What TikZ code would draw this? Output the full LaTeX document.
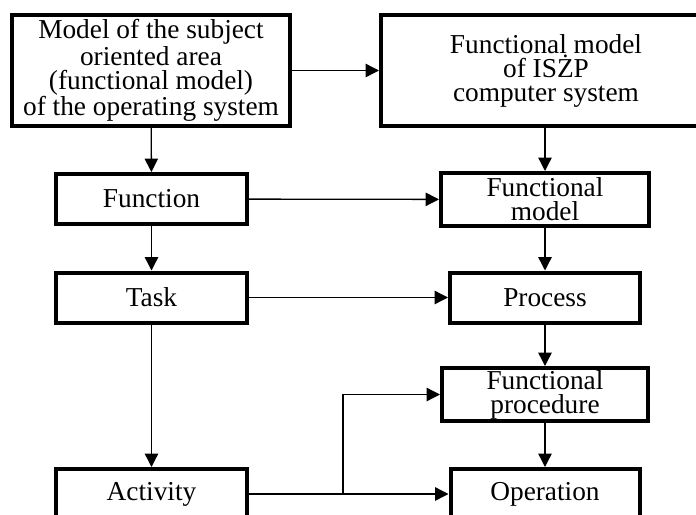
\documentclass[tikz,border=0pt]{standalone}
\usepackage{fontspec}
\setmainfont{Liberation Serif}
\usetikzlibrary{arrows.meta}

\begin{document}
\begin{tikzpicture}[x=0.75pt,y=-0.75pt,
        block/.style={draw,line width=3pt,align=center,inner sep=0pt,
            font=\fontsize{20.5}{18}\selectfont},
        link/.style={line width=1pt,-{Triangle[length=10pt,width=10pt]}}]
    \useasboundingbox (0,0) rectangle (696,514);
    \clip (0,0) rectangle (696,514);
    % left column
    \node[block,minimum width=208.5pt,minimum height=83.25pt] (model) at (151,70.5)
        {Model of the subject\\oriented area\\(functional model)\\of the operating system};
    \node[block,minimum width=143.25pt,minimum height=37.5pt] (function) at (151.5,199) {Function};
    \node[block,minimum width=143.25pt,minimum height=37.5pt] (task) at (151.5,297.5) {Task};
    \node[block,minimum width=143.25pt,minimum height=37.5pt] (activity) at (151.5,494) {Activity};
    % right column
    \node[block,minimum width=247.5pt,minimum height=83.25pt] (isf) at (546,70.5)
        {Functional model\\of ISŻP\\computer system};
    \node[block,minimum width=156pt,minimum height=39.75pt] (funmodel) at (545,199.5) {Functional\\model};
    \node[block,minimum width=142.5pt,minimum height=37.5pt] (process) at (545,297.5) {Process};
    \node[block,minimum width=154.5pt,minimum height=39.75pt] (funproc) at (545,394.5) {Functional\\procedure};
    \node[block,minimum width=141.75pt,minimum height=37.5pt] (operation) at (545,494) {Operation};
    % connectors
    \draw[link] (model) -- (isf);
    \draw[link] (model) -- (function);
    \draw[link] (function) -- (task);
    \draw[link] (task) -- (activity);
    \draw[link] (isf.south -| funmodel) -- (funmodel);
    \draw[link] (funmodel) -- (process);
    \draw[link] (process) -- (funproc);
    \draw[link] (funproc) -- (operation);
    \draw[link] (function) -- (funmodel);
    \draw[link] (task) -- (process);
    \draw[link] (activity) -- (operation);
    \coordinate (split) at (343,494);
    \draw[link] (split) |- (funproc.west);
\end{tikzpicture}
\end{document}
